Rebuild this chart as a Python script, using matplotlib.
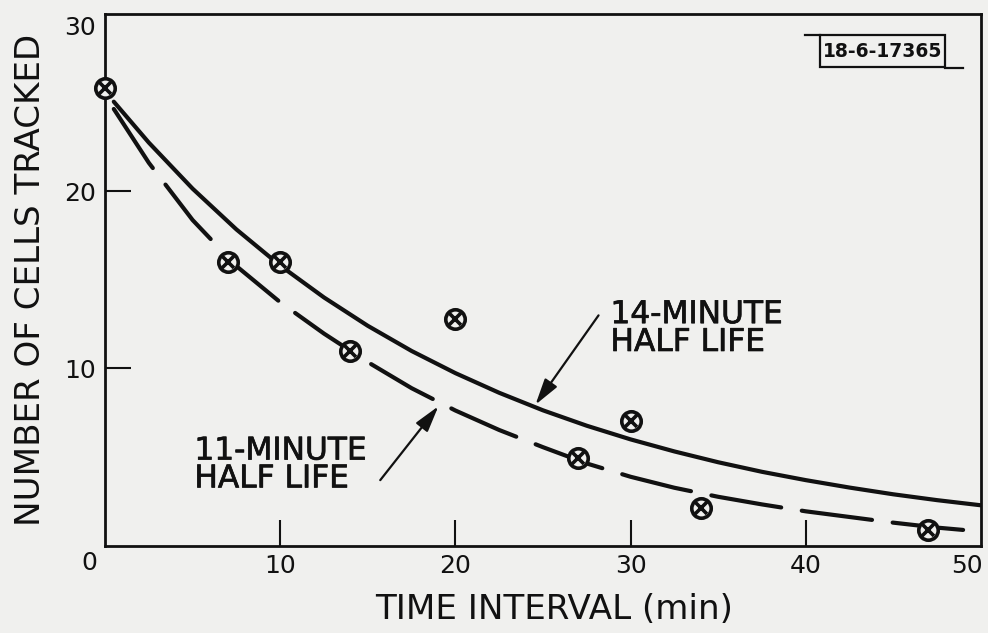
import matplotlib
matplotlib.use("Agg")
import matplotlib.pyplot as plt
import matplotlib.transforms as mtransforms
import matplotlib.patheffects as pe
from matplotlib.lines import Line2D
from matplotlib.patches import Rectangle

# ---------------- data ----------------
obs_time = [0, 7, 10, 14, 20, 27, 30, 34, 47]
obs_cells = [25.8, 16, 16, 11, 12.8, 4.95, 7, 2.1, 0.9]

curve_time = [0.5, 2.5, 5, 7.5, 10, 12.5, 15, 17.5, 20, 22.5, 25, 27.5,
              30, 32.5, 35, 37.5, 40, 42.5, 45, 47.5, 50]
curve_14min = [25.05, 22.74, 20.14, 17.84, 15.80, 14.00, 12.40, 10.98, 9.73,
               8.62, 7.63, 6.76, 5.99, 5.31, 4.70, 4.16, 3.69, 3.27, 2.89,
               2.56, 2.27]
curve_11min = [24.64, 21.6, 18.37, 15.77, 13.73, 11.96, 10.35, 8.88, 7.62,
               6.52, 5.55, 4.63, 3.88, 3.26, 2.75, 2.32, 1.93, 1.61, 1.29,
               1.01, 0.79]

x_ticks = [10, 20, 30, 40, 50]
x_ticklabels = ["10", "20", "30", "40", "50"]
y_ticks = [10, 20, 30]
y_ticklabels = ["10", "20", "30"]
x_label = "TIME INTERVAL (min)"
y_label = "NUMBER OF CELLS TRACKED"
label_14 = "14-MINUTE\nHALF LIFE"
label_11 = "11-MINUTE\nHALF LIFE"
fig_code = "18-6-17365"

# ---------------- style ----------------
BG = "#f0f0ee"
INK = "#111111"
plt.rcParams["font.family"] = ["DejaVu Sans"]
heavy = [pe.withStroke(linewidth=0.5, foreground=INK)]

fig = plt.figure(figsize=(9.88, 6.33), dpi=100, facecolor=BG)
ax = fig.add_axes([0.1063, 0.1382, 0.8866, 0.8397])
ax.set_facecolor(BG)

ax.set_xlim(0, 50)
ax.set_ylim(0, 30)

# curves
ax.plot(curve_time, curve_14min, color=INK, lw=3, solid_capstyle="round",
        solid_joinstyle="round", zorder=3)
ax.plot(curve_time, curve_11min, color=INK, lw=3, dashes=(17, 5),
        dash_capstyle="round", dash_joinstyle="round", zorder=3)

# observed points: circle with an x inside
ax.plot(obs_time, obs_cells, ls="none", marker="o", ms=14, mew=2.6,
        mfc=BG, mec=INK, zorder=5, clip_on=False)
ax.plot(obs_time, obs_cells, ls="none", marker="x", ms=8.5, mew=2.6,
        mec=INK, zorder=6, clip_on=False)

# spines
for s in ax.spines.values():
    s.set_linewidth(2.0)
    s.set_color(INK)

# ticks: inward, long; no marks at the corner positions
ax.set_xticks(x_ticks)
ax.set_xticklabels(x_ticklabels)
ax.set_yticks(y_ticks)
ax.set_yticklabels(y_ticklabels)
ax.tick_params(direction="in", length=19, width=1.5, color=INK,
               labelsize=18, labelcolor=INK)
ax.tick_params(axis="x", pad=6)
ax.tick_params(axis="y", pad=6.5)
ax.xaxis.get_major_ticks()[-1].tick1line.set_visible(False)
ax.yaxis.get_major_ticks()[-1].tick1line.set_visible(False)

# small position tweaks of corner labels
xl = ax.get_xticklabels()
xl[-1].set_transform(xl[-1].get_transform() +
                     mtransforms.ScaledTranslation(-10 / 72, 0, fig.dpi_scale_trans))
yl = ax.get_yticklabels()
yl[-1].set_transform(yl[-1].get_transform() +
                     mtransforms.ScaledTranslation(0, -8 / 72, fig.dpi_scale_trans))
ax.annotate("0", xy=(0, 0), xytext=(-11, -12.6), textcoords="offset points",
            ha="center", va="center", fontsize=18, color=INK,
            annotation_clip=False)

ax.set_xlabel(x_label, fontsize=24.6, color=INK, labelpad=11)
ax.xaxis.label.set_x(0.5126)
ax.set_ylabel(y_label, fontsize=24.6, color=INK, labelpad=12)

# annotations
arrow_kw = dict(arrowstyle="-|>,head_length=1.6,head_width=0.45",
                lw=1.6, color=INK, shrinkA=0, shrinkB=0, mutation_scale=10)
ax.annotate("", xy=(24.57, 7.95), xytext=(28.17, 12.99), arrowprops=arrow_kw)
ax.text(28.85, 13.85, label_14, ha="left", va="top", fontsize=22.5,
        color=INK, linespacing=0.95, path_effects=heavy)
ax.annotate("", xy=(19.03, 7.86), xytext=(15.71, 3.69), arrowprops=arrow_kw)
ax.text(5.1, 6.15, label_11, ha="left", va="top", fontsize=22.5,
        color=INK, linespacing=0.95, path_effects=heavy)

# figure code box (top-right)
fig.add_artist(Rectangle((0.830, 0.8942), 0.1265, 0.0505, transform=fig.transFigure,
                         fill=False, lw=1.6, ec=INK))
fig.add_artist(Line2D([0.8148, 0.830], [0.9447, 0.9447], transform=fig.transFigure,
                      lw=1.6, color=INK))
fig.add_artist(Line2D([0.9565, 0.9747], [0.8930, 0.8930], transform=fig.transFigure,
                      lw=1.6, color=INK))
fig.text(0.8932, 0.9194, fig_code, ha="center", va="center", fontsize=13.5,
         fontweight="bold", color=INK)

fig.savefig("out.png", dpi=100, facecolor=BG)
